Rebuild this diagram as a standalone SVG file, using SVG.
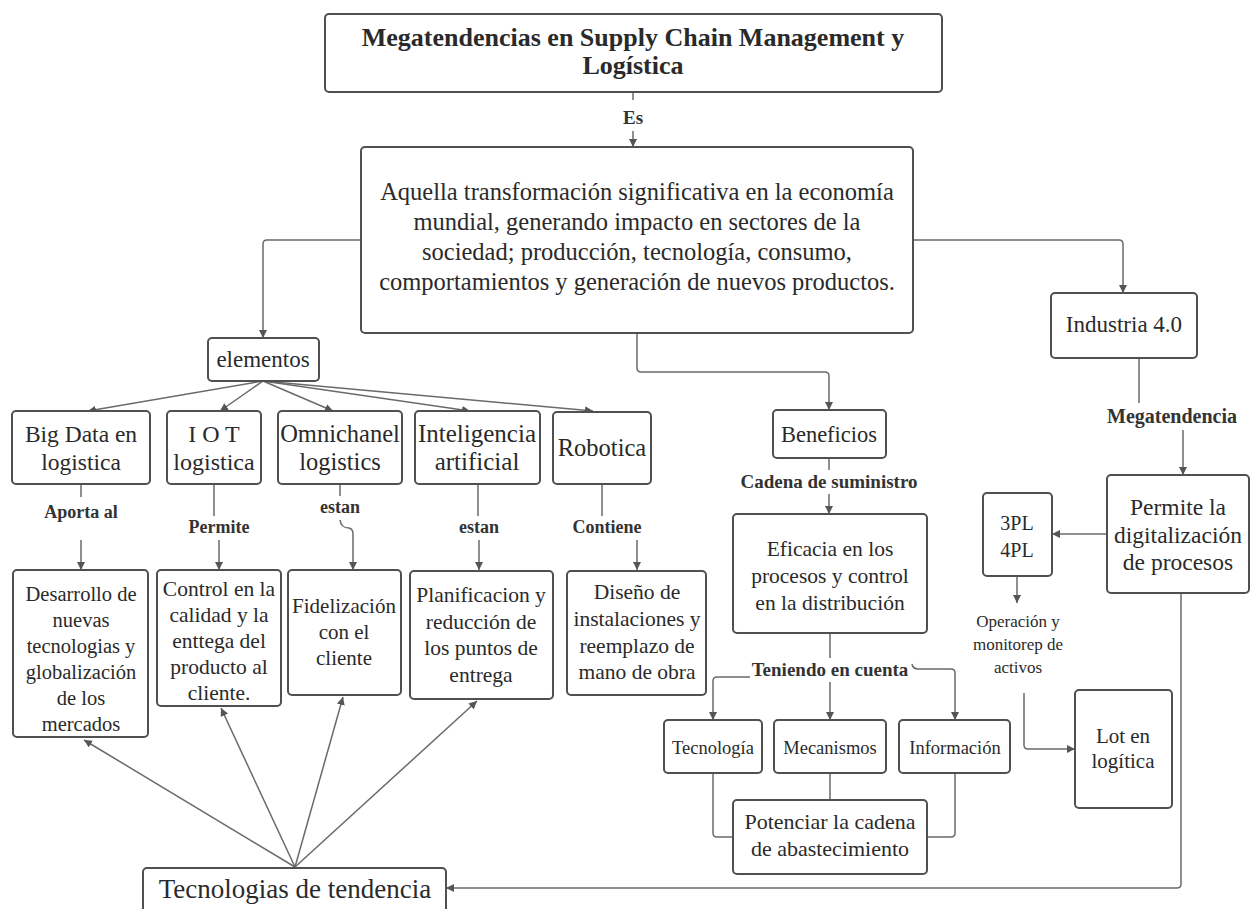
<svg xmlns="http://www.w3.org/2000/svg" width="1250" height="909" viewBox="0 0 1250 909">
<defs>
<style>
.box{fill:#fff;stroke:#505050;stroke-width:2}
.t{font-family:"Liberation Serif","DejaVu Serif",serif;fill:#2a2a2a;text-anchor:middle}
.lb{font-family:"Liberation Serif","DejaVu Serif",serif;fill:#333;text-anchor:middle;font-weight:bold;font-size:18px}
.c{fill:none;stroke:#6a6a6a;stroke-width:1.5}
</style>
<marker id="ah" viewBox="0 0 10 10" refX="10" refY="5" markerWidth="8" markerHeight="8" markerUnits="userSpaceOnUse" orient="auto">
<path d="M0,0 L10,5 L0,10 z" fill="#555"/>
</marker>
</defs>
<rect width="1250" height="909" fill="#fff"/>

<g id="connectors">
<path class="c" d="M633,92 V100"/>
<path class="c" d="M633,131 V147" marker-end="url(#ah)"/>
<path class="c" d="M361,240 H267 Q263,240 263,244 V338" marker-end="url(#ah)"/>
<path class="c" d="M913,240 H1119 Q1123,240 1123,244 V293" marker-end="url(#ah)"/>
<path class="c" d="M637,333 V368 Q637,372 641,372 H825 Q829,372 829,376 V410" marker-end="url(#ah)"/>
<path class="c" d="M263,381 L88,411" marker-end="url(#ah)"/>
<path class="c" d="M263,381 L220,411" marker-end="url(#ah)"/>
<path class="c" d="M263,381 L333,411" marker-end="url(#ah)"/>
<path class="c" d="M263,381 L470,411" marker-end="url(#ah)"/>
<path class="c" d="M263,381 L593,411" marker-end="url(#ah)"/>
<path class="c" d="M81,484 V497"/>
<path class="c" d="M81,540 V570" marker-end="url(#ah)"/>
<path class="c" d="M214,484 V516"/>
<path class="c" d="M219,540 V570" marker-end="url(#ah)"/>
<path class="c" d="M340,484 V496"/>
<path class="c" d="M340,520 Q341,528 349,528 Q353,529 353,534 V570" marker-end="url(#ah)"/>
<path class="c" d="M478,484 V516"/>
<path class="c" d="M479,540 V570" marker-end="url(#ah)"/>
<path class="c" d="M602,484 V516"/>
<path class="c" d="M637,540 V570" marker-end="url(#ah)"/>
<path class="c" d="M829,458 V470"/>
<path class="c" d="M829,494 V514" marker-end="url(#ah)"/>
<path class="c" d="M830,633 V658"/>
<path class="c" d="M750,677 H717 Q713,677 713,681 V720" marker-end="url(#ah)"/>
<path class="c" d="M830,682 V720" marker-end="url(#ah)"/>
<path class="c" d="M912,664 Q913,669 918,669 H951 Q955,669 955,673 V720" marker-end="url(#ah)"/>
<path class="c" d="M713,773 V833 Q713,837 717,837 H733"/>
<path class="c" d="M830,773 V800"/>
<path class="c" d="M955,773 V833 Q955,837 951,837 H927"/>
<path class="c" d="M295,867 L84,740" marker-end="url(#ah)"/>
<path class="c" d="M295,867 L221,708" marker-end="url(#ah)"/>
<path class="c" d="M295,867 L343,697" marker-end="url(#ah)"/>
<path class="c" d="M295,867 L477,701" marker-end="url(#ah)"/>
<path class="c" d="M1139,358 V403"/>
<path class="c" d="M1183,430 V475" marker-end="url(#ah)"/>
<path class="c" d="M1107,534 H1052" marker-end="url(#ah)"/>
<path class="c" d="M1017,576 V603" marker-end="url(#ah)"/>
<path class="c" d="M1024,693 V745 Q1024,749 1028,749 H1075" marker-end="url(#ah)"/>
<path class="c" d="M1181,593 V884 Q1181,888 1177,888 H446" marker-end="url(#ah)"/>
</g>

<g id="labels">
<text class="lb" x="633" y="124" style="font-size:19px">Es</text>
<text class="lb" x="81" y="518">Aporta al</text>
<text class="lb" x="219" y="533">Permite</text>
<text class="lb" x="340" y="513">estan</text>
<text class="lb" x="479" y="533">estan</text>
<text class="lb" x="607" y="533">Contiene</text>
<text class="lb" x="829" y="488" style="font-size:19px">Cadena de suministro</text>
<text class="lb" x="830" y="676" style="font-size:19px">Teniendo en cuenta</text>
<text class="lb" x="1172" y="423" style="font-size:20px">Megatendencia</text>
<text class="t" x="1018" y="627" font-size="17" fill="#444">Operación y</text>
<text class="t" x="1018" y="650" font-size="17" fill="#444">monitorep de</text>
<text class="t" x="1018" y="673" font-size="17" fill="#444">activos</text>
</g>

<g id="n-title">
<rect class="box" x="325" y="14" width="617" height="78" rx="4"/>
<text class="t" x="633" y="46" font-size="26" font-weight="bold">Megatendencias en Supply Chain Management y</text>
<text class="t" x="633" y="74" font-size="26" font-weight="bold">Logística</text>
</g>

<g id="n-main">
<rect class="box" x="361" y="147" width="552" height="186" rx="4"/>
<text class="t" x="637" y="200" font-size="24.5">Aquella transformación significativa en la economía</text>
<text class="t" x="637" y="230" font-size="24.5">mundial, generando impacto en sectores de la</text>
<text class="t" x="637" y="260" font-size="24.5">sociedad; producción, tecnología, consumo,</text>
<text class="t" x="637" y="290" font-size="24.5">comportamientos y generación de nuevos productos.</text>
</g>

<g id="n-elementos">
<rect class="box" x="208" y="338" width="111" height="43" rx="4"/>
<text class="t" x="263" y="367" font-size="23">elementos</text>
</g>

<g id="n-bigdata">
<rect class="box" x="12" y="411" width="138" height="73" rx="4"/>
<text class="t" x="81" y="442" font-size="23.5">Big Data en</text>
<text class="t" x="81" y="470" font-size="23.5">logistica</text>
</g>

<g id="n-iot">
<rect class="box" x="167" y="411" width="94" height="73" rx="4"/>
<text class="t" x="214" y="442" font-size="24">I O T</text>
<text class="t" x="214" y="470" font-size="24">logistica</text>
</g>

<g id="n-omni">
<rect class="box" x="278" y="411" width="124" height="73" rx="4"/>
<text class="t" x="340" y="442" font-size="24.5">Omnichanel</text>
<text class="t" x="340" y="470" font-size="24.5">logistics</text>
</g>

<g id="n-ia">
<rect class="box" x="415" y="411" width="125" height="73" rx="4"/>
<text class="t" x="477" y="442" font-size="25">Inteligencia</text>
<text class="t" x="477" y="470" font-size="25">artificial</text>
</g>

<g id="n-robotica">
<rect class="box" x="553" y="412" width="98" height="72" rx="4"/>
<text class="t" x="602" y="456" font-size="24.5">Robotica</text>
</g>

<g id="n-desarrollo">
<rect class="box" x="13" y="570" width="135" height="167" rx="4"/>
<text class="t" x="81" y="601" font-size="20.5">Desarrollo de</text>
<text class="t" x="81" y="627" font-size="20.5">nuevas</text>
<text class="t" x="81" y="653" font-size="20.5">tecnologias  y</text>
<text class="t" x="81" y="679" font-size="20.5">globalización</text>
<text class="t" x="81" y="705" font-size="20.5">de los</text>
<text class="t" x="81" y="731" font-size="20.5">mercados</text>
</g>

<g id="n-control">
<rect class="box" x="157" y="570" width="124" height="136" rx="4"/>
<text class="t" x="219" y="596" font-size="21.5">Control en la</text>
<text class="t" x="219" y="622" font-size="21.5">calidad y la</text>
<text class="t" x="219" y="648" font-size="21.5">enttega del</text>
<text class="t" x="219" y="674" font-size="21.5">producto al</text>
<text class="t" x="219" y="700" font-size="21.5">cliente.</text>
</g>

<g id="n-fidelizacion">
<rect class="box" x="288" y="570" width="113" height="125" rx="4"/>
<text class="t" x="344" y="613" font-size="21">Fidelización</text>
<text class="t" x="344" y="639" font-size="21">con el</text>
<text class="t" x="344" y="665" font-size="21">cliente</text>
</g>

<g id="n-planificacion">
<rect class="box" x="410" y="571" width="143" height="128" rx="4"/>
<text class="t" x="481" y="602" font-size="21.5">Planificacion y</text>
<text class="t" x="481" y="629" font-size="21.5">reducción de</text>
<text class="t" x="481" y="655" font-size="21.5">los puntos de</text>
<text class="t" x="481" y="682" font-size="21.5">entrega</text>
</g>

<g id="n-diseno">
<rect class="box" x="567" y="571" width="139" height="124" rx="4"/>
<text class="t" x="637" y="599" font-size="21.5">Diseño de</text>
<text class="t" x="637" y="626" font-size="21.5">instalaciones y</text>
<text class="t" x="637" y="653" font-size="21.5">reemplazo de</text>
<text class="t" x="637" y="679" font-size="21.5">mano de obra</text>
</g>

<g id="n-tendencia">
<rect class="box" x="143" y="868" width="303" height="52" rx="4"/>
<text class="t" x="295" y="898" font-size="27">Tecnologias de tendencia</text>
</g>

<g id="n-beneficios">
<rect class="box" x="773" y="410" width="113" height="48" rx="4"/>
<text class="t" x="829" y="442" font-size="22.5">Beneficios</text>
</g>

<g id="n-eficacia">
<rect class="box" x="733" y="514" width="194" height="119" rx="4"/>
<text class="t" x="830" y="556" font-size="21.5">Eficacia en los</text>
<text class="t" x="830" y="583" font-size="21.5">procesos y control</text>
<text class="t" x="830" y="610" font-size="21.5">en la distribución</text>
</g>

<g id="n-tecnologia">
<rect class="box" x="664" y="720" width="98" height="53" rx="4"/>
<text class="t" x="713" y="754" font-size="18.5">Tecnología</text>
</g>

<g id="n-mecanismos">
<rect class="box" x="774" y="720" width="112" height="53" rx="4"/>
<text class="t" x="830" y="754" font-size="18.5">Mecanismos</text>
</g>

<g id="n-informacion">
<rect class="box" x="899" y="720" width="111" height="53" rx="4"/>
<text class="t" x="955" y="754" font-size="18.5">Información</text>
</g>

<g id="n-potenciar">
<rect class="box" x="733" y="800" width="194" height="74" rx="4"/>
<text class="t" x="830" y="829" font-size="22">Potenciar la cadena</text>
<text class="t" x="830" y="856" font-size="22">de abastecimiento</text>
</g>

<g id="n-industria">
<rect class="box" x="1051" y="293" width="146" height="65" rx="4"/>
<text class="t" x="1124" y="332" font-size="23">Industria 4.0</text>
</g>

<g id="n-permite">
<rect class="box" x="1107" y="475" width="142" height="118" rx="4"/>
<text class="t" x="1178" y="515" font-size="23.5">Permite la</text>
<text class="t" x="1178" y="543" font-size="23.5">digitalización</text>
<text class="t" x="1178" y="570" font-size="23.5">de procesos</text>
</g>

<g id="n-3pl">
<rect class="box" x="983" y="493" width="69" height="83" rx="4"/>
<text class="t" x="1017" y="530" font-size="20">3PL</text>
<text class="t" x="1017" y="557" font-size="20">4PL</text>
</g>

<g id="n-lot">
<rect class="box" x="1075" y="690" width="97" height="118" rx="4"/>
<text class="t" x="1123" y="743" font-size="21">Lot en</text>
<text class="t" x="1123" y="768" font-size="21">logítica</text>
</g>
</svg>
